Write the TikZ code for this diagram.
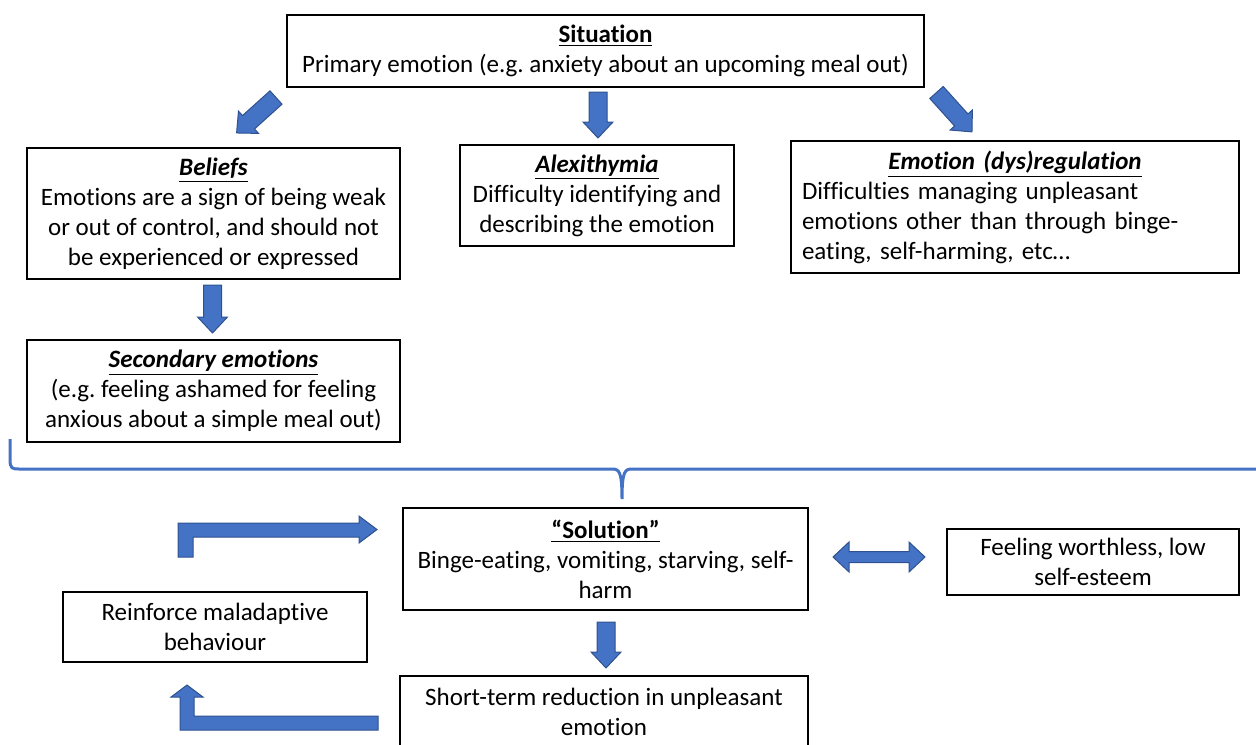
\documentclass[tikz,border=0pt]{standalone}
\usepackage{fontspec}
\setmainfont{Carlito}[Ligatures=NoCommon]
\frenchspacing
\definecolor{arrowfill}{HTML}{4472C4}
\definecolor{arrowline}{HTML}{2F528F}
\tikzset{
  box/.style={draw, line width=0.6pt, align=center, inner sep=0pt,
    font=\fontsize{12.5}{15}\selectfont},
  blockarrow/.style={fill=arrowfill, draw=arrowline, line width=0.5pt, line join=miter},
  pics/blockarr/.style={code={
    \draw[blockarrow] (0,-9) -- ({#1-16},-9) -- ({#1-16},-15) -- (#1,0)
      -- ({#1-16},15) -- ({#1-16},9) -- (0,9) -- cycle;}}
}
\newcommand{\boxtitle}[1]{\textbf{\underline{#1}}}
\newcommand{\boxtitleit}[1]{\textbf{\textit{\underline{#1}}}}
\begin{document}
\begin{tikzpicture}[x=0.5pt,y=-0.5pt]
  \useasboundingbox (0,0) rectangle (1256,744);

  % upper row
  \node[box, minimum width=318.5pt, minimum height=36pt] (sit) at (605.5,51)
    {\boxtitle{Situation}\\ Primary emotion (e.g. anxiety about an upcoming meal out)};
  \node[box, minimum width=186.5pt, minimum height=65.5pt] (bel) at (213.5,213.5)
    {\boxtitleit{Beliefs}\\ Emotions are a sign of being weak\\ or out of control, and should not\\ be experienced or expressed};
  \node[box, minimum width=137pt, minimum height=50.5pt] (alex) at (597,195.5)
    {\boxtitleit{Alexithymia}\\ Difficulty identifying and\\ describing the emotion};
  \node[box, align=left, inner xsep=5.5pt, text width=213pt, minimum height=66pt] (dys) at (1015,207)
    {\centering\boxtitleit{Emotion (dys)regulation}\par\raggedright
     Difficulties managing unpleasant\\ emotions other than through binge-\\ eating, self-harming, etc…};
  \node[box, minimum width=186.5pt, minimum height=51pt] (sec) at (213.5,391)
    {\boxtitleit{Secondary emotions}\\ (e.g. feeling ashamed for feeling\\ anxious about a simple meal out)};

  % lower row
  \node[box, minimum width=202.5pt, minimum height=51pt] (sol) at (605.5,559)
    {\boxtitle{“Solution”}\\ Binge-eating, vomiting, starving, self-\\ harm};
  \node[box, minimum width=146pt, minimum height=33pt] (worth) at (1093,562)
    {Feeling worthless, low\\ self-esteem};
  \node[box, minimum width=152pt, minimum height=35pt] (reinf) at (215,627)
    {Reinforce maladaptive\\ behaviour};
  \node[box, minimum width=204pt, minimum height=36pt] (short) at (604,712)
    {Short-term reduction in unpleasant\\ emotion};

  % block arrows
  \pic[rotate=222] at (276,97.5) {blockarr=53};
  \pic[rotate=-90] at (598,92) {blockarr=46};
  \pic[rotate=-48] at (936.5,92.5) {blockarr=53};
  \pic[rotate=-90] at (212.5,285) {blockarr=48};
  \pic[rotate=-90] at (606,622) {blockarr=46};

  \draw[blockarrow] (178,557) -- (178,523) -- (359,523) -- (359,516) -- (377,529.5)
    -- (359,543) -- (359,537) -- (193,537) -- (193,557) -- cycle;
  \draw[blockarrow] (378,716) -- (194,716) -- (194,697) -- (203,697) -- (187,685)
    -- (171,697) -- (180,697) -- (180,730) -- (378,730) -- cycle;
  \draw[blockarrow] (833,557) -- (849,542) -- (849,551.5) -- (909,551.5) -- (909,542)
    -- (925,557) -- (909,572) -- (909,562.5) -- (849,562.5) -- (849,572) -- cycle;

  % brace
  \draw[arrowfill, line width=1.5pt] (10,439) -- (10,459) .. controls (10,469) and (12,469) .. (20,469)
    -- (612,469) .. controls (619,469) and (622,471) .. (622,499)
    .. controls (622,471) and (625,469) .. (632,469) -- (1256,469);
\end{tikzpicture}
\end{document}
